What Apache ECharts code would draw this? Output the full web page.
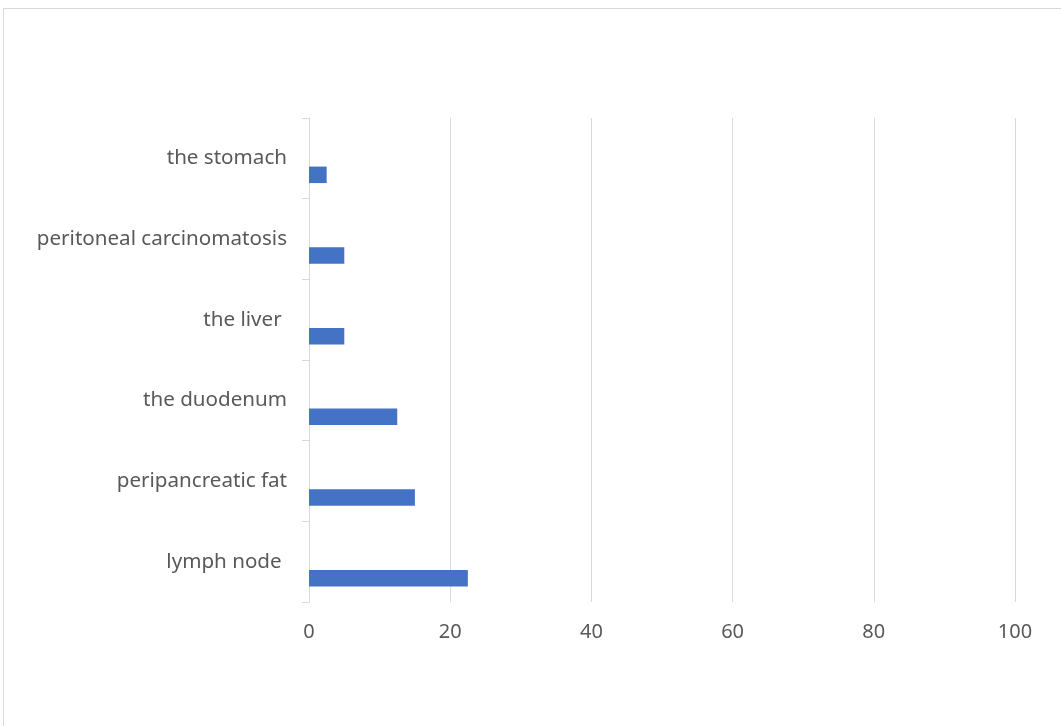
<!DOCTYPE html>
<html>
<head>
<meta charset="utf-8">
<script src="https://cdn.jsdelivr.net/npm/echarts@6/dist/echarts.min.js"></script>
<style>
html,body{margin:0;padding:0;background:#fff;}
#main{width:1061px;height:726px;}
</style>
</head>
<body>
<div id="main"></div>
<script>
var categories = ['lymph node ', 'peripancreatic fat', 'the duodenum', 'the liver ', 'peritoneal carcinomatosis', 'the stomach'];
var values = [22.5, 15, 12.5, 5, 5, 2.5];
var emptyValues = ['-', '-', '-', '-', '-', '-'];
var xTicks = [0, 20, 40, 60, 80, 100];

var chart = echarts.init(document.getElementById('main'));
chart.setOption({
  animation: false,
  backgroundColor: '#ffffff',
  graphic: [{
    type: 'rect',
    shape: {x: 3.5, y: 8.5, width: 1200, height: 900},
    style: {fill: 'none', stroke: '#d9d9d9', lineWidth: 1},
    silent: true
  }],
  grid: {left: 309, right: 46, top: 118, bottom: 124, containLabel: false},
  xAxis: {
    type: 'value',
    min: xTicks[0],
    max: xTicks[xTicks.length - 1],
    interval: 20,
    axisLine: {show: false},
    axisTick: {show: false},
    splitLine: {show: true, lineStyle: {color: '#d9d9d9', width: 1}},
    axisLabel: {color: '#595959', fontSize: 20, fontFamily: 'Noto Sans', margin: 20}
  },
  yAxis: {
    type: 'category',
    data: categories,
    axisLine: {show: true, lineStyle: {color: '#d9d9d9', width: 1}},
    axisTick: {show: true, length: 7, lineStyle: {color: '#d9d9d9'}},
    axisLabel: {color: '#595959', fontSize: 20.6, fontFamily: 'Noto Sans', margin: 22}
  },
  series: [
    {type: 'bar', data: emptyValues, barWidth: 16.5, barGap: '0%', itemStyle: {color: '#A5A5A5'}},
    {type: 'bar', data: emptyValues, barWidth: 16.5, barGap: '0%', itemStyle: {color: '#ED7D31'}},
    {type: 'bar', data: values, barWidth: 16.5, barGap: '0%', itemStyle: {color: '#4472C4'}}
  ]
});
</script>
</body>
</html>
